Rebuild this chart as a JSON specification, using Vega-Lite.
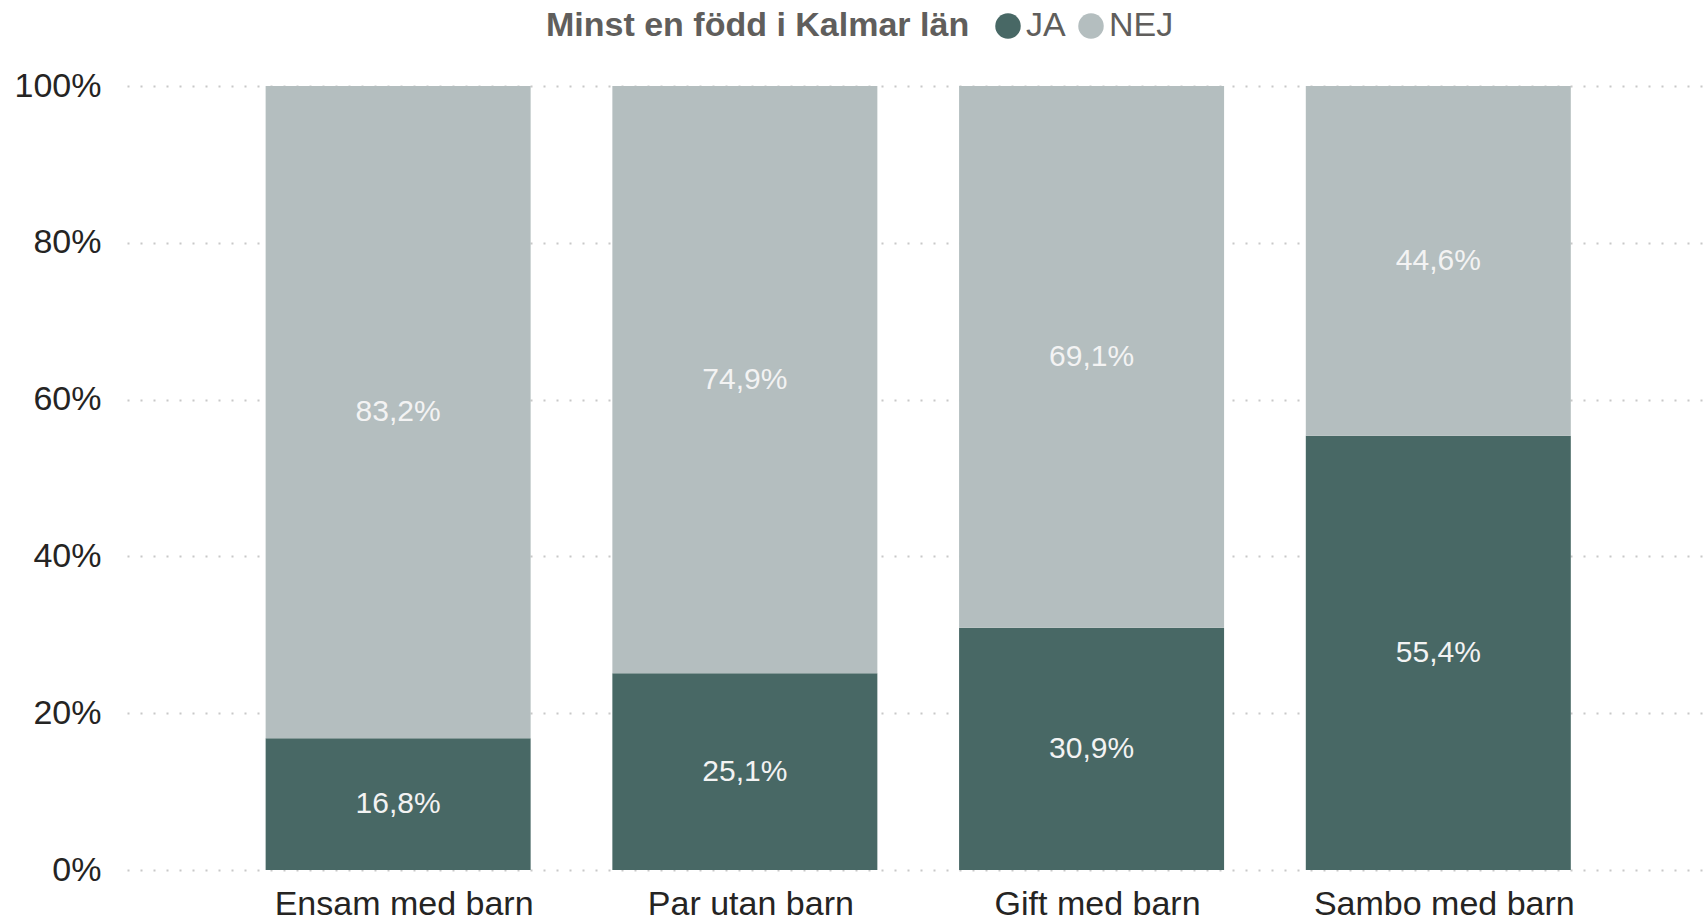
{
  "$schema": "https://vega.github.io/schema/vega-lite/v6.json",
  "width": 1577,
  "height": 784,
  "autosize": {"type": "none"},
  "padding": {"left": 127, "top": 86, "right": 0, "bottom": 50},
  "background": "white",
  "config": {
    "view": {"stroke": null},
    "font": "Liberation Sans",
    "locale": {"number": {"decimal": ",", "thousands": " ", "grouping": [3], "currency": ["", " kr"]}}
  },
  "data": {
    "values": [
      {"grupp": "Ensam med barn", "fodd": "JA", "andel": 0.168},
      {"grupp": "Ensam med barn", "fodd": "NEJ", "andel": 0.832},
      {"grupp": "Par utan barn", "fodd": "JA", "andel": 0.251},
      {"grupp": "Par utan barn", "fodd": "NEJ", "andel": 0.749},
      {"grupp": "Gift med barn", "fodd": "JA", "andel": 0.309},
      {"grupp": "Gift med barn", "fodd": "NEJ", "andel": 0.691},
      {"grupp": "Sambo med barn", "fodd": "JA", "andel": 0.554},
      {"grupp": "Sambo med barn", "fodd": "NEJ", "andel": 0.446}
    ]
  },
  "encoding": {
    "x": {
      "field": "grupp",
      "type": "nominal",
      "sort": ["Ensam med barn", "Par utan barn", "Gift med barn", "Sambo med barn"],
      "scale": {"paddingInner": 0.2357, "paddingOuter": 0.392, "align": 0.51},
      "axis": {
        "title": null,
        "labelAngle": 0,
        "ticks": false,
        "domain": false,
        "labelFontSize": 34,
        "labelColor": "#252423",
        "labelPadding": 17,
        "labelOffset": 6,
        "labelLimit": 0,
        "labelFont": "Liberation Sans"
      }
    },
    "order": {"field": "fodd", "type": "nominal", "sort": "ascending"}
  },
  "layer": [
    {
      "mark": {"type": "bar"},
      "encoding": {
        "y": {
          "field": "andel",
          "type": "quantitative",
          "stack": "zero",
          "scale": {"domain": [0, 1], "nice": false},
          "axis": {
            "title": null,
            "format": ".0%",
            "values": [0, 0.2, 0.4, 0.6, 0.8, 1],
            "domain": false,
            "ticks": false,
            "grid": true,
            "gridColor": "#c8c8c8",
            "gridDash": [2, 11],
            "gridWidth": 2,
            "labelFontSize": 34,
            "labelColor": "#252423",
            "labelPadding": 26,
            "labelFont": "Liberation Sans"
          }
        },
        "color": {
          "field": "fodd",
          "type": "nominal",
          "scale": {"domain": ["JA", "NEJ"], "range": ["#486865", "#b4bebf"]},
          "legend": {
            "title": "Minst en född i Kalmar län",
            "orient": "none",
            "legendX": 419,
            "legendY": -77,
            "direction": "horizontal",
            "titleOrient": "left",
            "titleFontSize": 34,
            "titleFontWeight": "bold",
            "titleColor": "#605e5c",
            "titlePadding": 21,
            "titleLimit": 0,
            "titleFont": "Liberation Sans",
            "labelFontSize": 34,
            "labelColor": "#605e5c",
            "labelFont": "Liberation Sans",
            "labelOffset": 1,
            "labelLimit": 0,
            "symbolType": "circle",
            "symbolSize": 650,
            "symbolStrokeWidth": 0,
            "columnPadding": 8
          }
        }
      }
    },
    {
      "mark": {"type": "text", "fontSize": 30, "color": "#f3f3f3", "baseline": "middle", "font": "Liberation Sans"},
      "encoding": {
        "y": {"field": "andel", "type": "quantitative", "stack": "zero", "bandPosition": 0.5},
        "detail": {"field": "fodd", "type": "nominal"},
        "text": {"field": "andel", "type": "quantitative", "format": ".1%"}
      }
    }
  ]
}
